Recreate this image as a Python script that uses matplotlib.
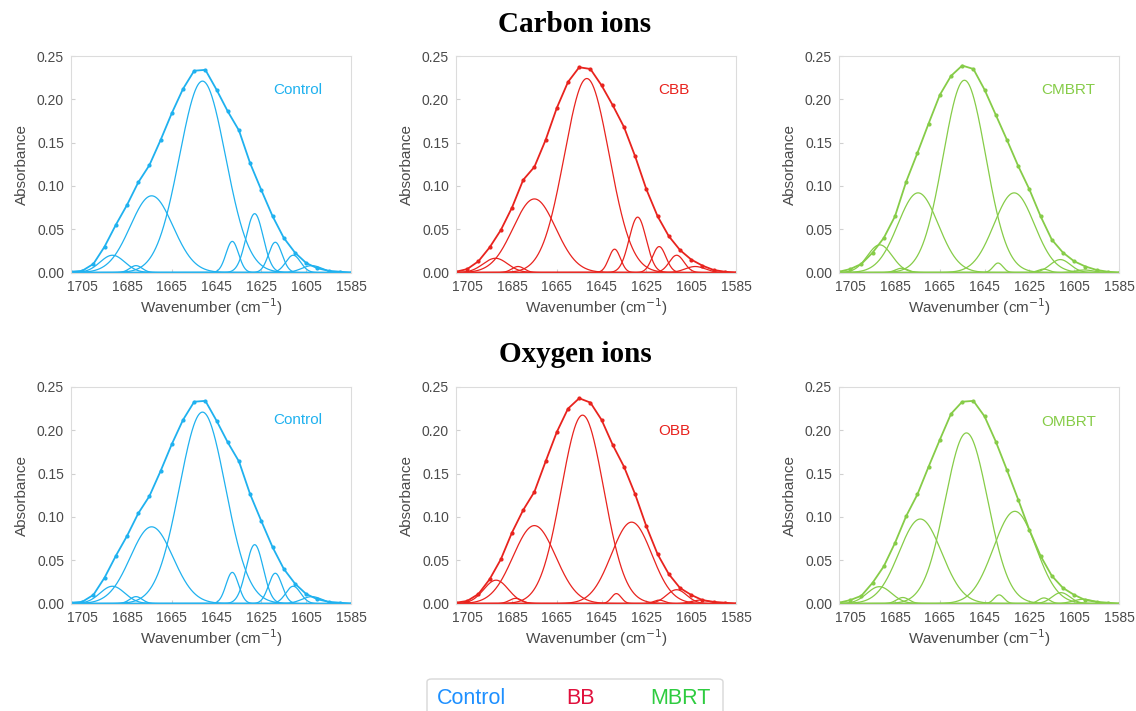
import numpy as np
import matplotlib
matplotlib.use("Agg")
import matplotlib.pyplot as plt
from matplotlib.patches import FancyBboxPatch

# wavenumbers where the measured (dotted) spectrum was read
wn_env = [1710, 1705, 1700, 1695, 1690, 1685, 1680, 1675, 1670, 1665, 1660, 1655, 1650,
          1645, 1640, 1635, 1630, 1625, 1620, 1615, 1610, 1605, 1600, 1595, 1590, 1585]

# measured spectra (absorbance)
env_control = [0.001, 0.002, 0.010, 0.030, 0.055, 0.078, 0.104, 0.124, 0.153, 0.184, 0.212, 0.233, 0.234,
               0.211, 0.186, 0.164, 0.126, 0.095, 0.065, 0.040, 0.023, 0.011, 0.005, 0.002, 0.001, 0.0]
env_cbb = [0.001, 0.004, 0.013, 0.029, 0.049, 0.075, 0.107, 0.122, 0.153, 0.190, 0.220, 0.237, 0.235,
           0.216, 0.193, 0.168, 0.134, 0.096, 0.065, 0.042, 0.026, 0.015, 0.008, 0.003, 0.001, 0.0]
env_cmbrt = [0.001, 0.004, 0.010, 0.023, 0.040, 0.065, 0.105, 0.138, 0.172, 0.205, 0.227, 0.239, 0.235,
             0.211, 0.182, 0.153, 0.123, 0.096, 0.065, 0.038, 0.023, 0.013, 0.007, 0.003, 0.001, 0.0]
env_obb = [0.001, 0.003, 0.011, 0.028, 0.051, 0.082, 0.108, 0.129, 0.164, 0.198, 0.225, 0.237, 0.232,
           0.212, 0.183, 0.158, 0.126, 0.089, 0.057, 0.034, 0.018, 0.010, 0.004, 0.002, 0.001, 0.0]
env_ombrt = [0.001, 0.004, 0.009, 0.024, 0.043, 0.070, 0.101, 0.126, 0.158, 0.189, 0.219, 0.233, 0.234,
             0.216, 0.187, 0.154, 0.120, 0.085, 0.055, 0.032, 0.018, 0.010, 0.004, 0.002, 0.001, 0.0]

# fitted gaussian bands: centre (cm-1), height, sigma (cm-1)
ctr_control = [1691.5, 1681.0, 1674.0, 1651.3, 1638.0, 1628.0, 1618.8, 1610.8, 1602.5]
hgt_control = [0.020, 0.008, 0.0886, 0.221, 0.036, 0.068, 0.035, 0.020, 0.008]
sig_control = [5.5, 2.8, 9.5, 10.3, 2.8, 3.8, 3.0, 3.3, 4.5]

ctr_cbb = [1692.4, 1682.3, 1675.0, 1651.6, 1639.2, 1628.9, 1619.3, 1611.5, 1603.2]
hgt_cbb = [0.0165, 0.007, 0.085, 0.224, 0.027, 0.064, 0.030, 0.020, 0.007]
sig_cbb = [5.5, 2.8, 9.5, 10.0, 2.6, 3.8, 3.0, 3.3, 4.5]

ctr_cmbrt = [1691.8, 1682.0, 1674.7, 1654.0, 1639.0, 1631.8, 1618.7, 1611.2, 1600.5]
hgt_cmbrt = [0.032, 0.005, 0.092, 0.222, 0.011, 0.092, 0.004, 0.015, 0.003]
sig_cmbrt = [5.5, 2.8, 9.0, 9.5, 2.2, 9.0, 2.5, 4.5, 4.0]

ctr_obb = [1692.1, 1683.4, 1675.0, 1653.5, 1638.4, 1631.6, 1619.3, 1611.5, 1600.9]
hgt_obb = [0.027, 0.006, 0.090, 0.2175, 0.0115, 0.094, 0.004, 0.016, 0.004]
sig_obb = [5.5, 2.8, 9.5, 9.5, 2.2, 9.0, 2.5, 4.5, 4.0]

ctr_ombrt = [1692.0, 1681.5, 1673.7, 1653.1, 1638.5, 1631.5, 1618.5, 1610.9, 1600.9]
hgt_ombrt = [0.0195, 0.007, 0.0976, 0.197, 0.010, 0.1065, 0.0065, 0.0126, 0.005]
sig_ombrt = [5.5, 2.8, 9.5, 9.5, 2.2, 9.5, 2.5, 4.0, 4.5]

labels = [["Control", "CBB", "CMBRT"], ["Control", "OBB", "OMBRT"]]
envs = [[env_control, env_cbb, env_cmbrt], [env_control, env_obb, env_ombrt]]
bands = [[(ctr_control, hgt_control, sig_control), (ctr_cbb, hgt_cbb, sig_cbb), (ctr_cmbrt, hgt_cmbrt, sig_cmbrt)],
         [(ctr_control, hgt_control, sig_control), (ctr_obb, hgt_obb, sig_obb), (ctr_ombrt, hgt_ombrt, sig_ombrt)]]
colors = ["#1fb1ef", "#e8231e", "#86cc48"]
label_y = [[0.845, 0.843, 0.845], [0.848, 0.795, 0.840]]
label_x = [0.81, 0.778, 0.82]

W, H = 1136, 711
fig = plt.figure(figsize=(W / 100, H / 100), dpi=100)
plt.rcParams['font.family'] = ['Liberation Sans', 'DejaVu Sans']

col_left = [71, 456, 839]
row_bottom = [273, 604]
ax_w, ax_h = 280, 217

x = np.linspace(1712, 1583, 800)
for r in range(2):
    for c in range(3):
        ax = fig.add_axes([col_left[c] / W, 1 - row_bottom[r] / H, ax_w / W, ax_h / H])
        col = colors[c]
        ctr, hgt, sig = bands[r][c]
        for cc, hh, ss in zip(ctr, hgt, sig):
            ax.plot(x, hh * np.exp(-0.5 * ((x - cc) / ss) ** 2), color=col, lw=0.9)
        ax.plot(wn_env, envs[r][c], color=col, lw=1.3, marker='o', ms=2.0)
        ax.set_xlim(1710, 1585)
        ax.set_ylim(-0.0005, 0.25)
        ax.set_xticks([1705, 1685, 1665, 1645, 1625, 1605, 1585])
        ax.set_yticks([0, 0.05, 0.10, 0.15, 0.20, 0.25])
        ax.set_yticklabels(["0.00", "0.05", "0.10", "0.15", "0.20", "0.25"])
        ax.tick_params(direction='in', length=3, color='#d0d0d0', labelsize=10, labelcolor='#4a4a4a', pad=5)
        for sp in ax.spines.values():
            sp.set_color('#dcdcdc')
            sp.set_linewidth(0.8)
        ax.set_ylabel("Absorbance", fontsize=11, color='#4a4a4a', labelpad=6)
        ax.set_xlabel("Wavenumber (cm$^{-1}$)", fontsize=11, color='#4a4a4a', labelpad=2)
        ax.text(label_x[c], label_y[r][c], labels[r][c], transform=ax.transAxes, color=col,
                fontsize=11, ha='center', va='center')

fig.text(575 / W, 1 - 24 / H, "Carbon ions", family='Liberation Serif', weight='bold',
         fontsize=21, ha='center', va='center')
fig.text(575 / W, 1 - 355 / H, "Oxygen ions", family='Liberation Serif', weight='bold',
         fontsize=21, ha='center', va='center')

# legend box at the bottom
box = FancyBboxPatch((427 / W, -0.05), 296 / W, 0.05 + 32 / H, boxstyle="round,pad=0,rounding_size=0.004",
                     transform=fig.transFigure, facecolor='white', edgecolor='#d8d8d8', lw=1)
fig.add_artist(box)
leg_names = ["Control", "BB", "MBRT"]
leg_colors = ["#1e90ff", "#e0103c", "#2ecc40"]
leg_x = [472, 580, 680]
for name, lc, lx in zip(leg_names, leg_colors, leg_x):
    fig.text(lx / W, 1 - 699 / H, name, color=lc, fontsize=15.5, ha='center', va='center')

fig.savefig("out.png", dpi=100)
